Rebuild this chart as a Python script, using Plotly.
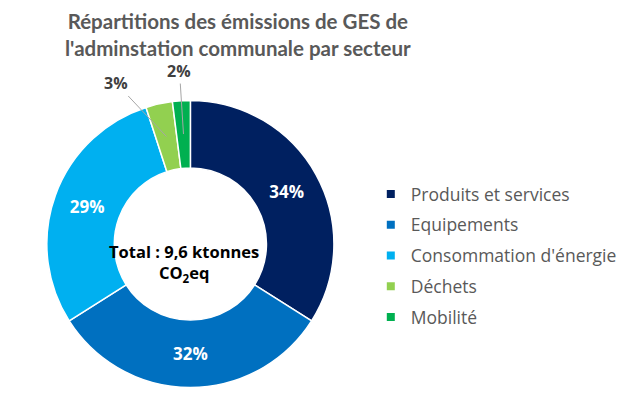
import math
import plotly.graph_objects as go

categories = ["Produits et services", "Equipements", "Consommation d'énergie", "Déchets", "Mobilité"]
values = [34, 32, 29, 3, 2]
colors = ["#002060", "#0070C0", "#00B0F0", "#92D050", "#00B050"]
inside_label = [True, True, True, False, False]
title_text = "Répartitions des émissions de GES de<br>l'adminstation communale par secteur"
center_text = "Total : 9,6 ktonnes<br>CO<sub>2</sub>eq"

W, H = 622, 407
TFONT = "Lato"
FONT = "Open Sans"

# pie placement (pixels)
CX, CY, R = 191, 244, 144
HOLE = 0.53

fig = go.Figure()
fig.add_trace(go.Pie(
    labels=categories,
    values=values,
    sort=False,
    direction="clockwise",
    rotation=0,
    hole=HOLE,
    marker=dict(colors=colors, line=dict(color="white", width=1.5)),
    texttemplate=["%{value}%" if ins else "" for ins in inside_label],
    textposition=["inside" if ins else "none" for ins in inside_label],
    insidetextorientation="horizontal",
    insidetextfont=dict(family=FONT, size=17, color="white", weight="bold"),
    showlegend=False,
    domain=dict(x=[(CX - R) / W, (CX + R) / W], y=[1 - (CY + R) / H, 1 - (CY - R) / H]),
    hoverinfo="label+value",
))

# legend entries (one per category, spaced like the reference)
for cat, col in zip(categories, colors):
    fig.add_trace(go.Scatter(
        x=[None], y=[None], mode="markers", name=cat, legendgroup=cat,
        marker=dict(symbol="square", size=8, color=col),
        hoverinfo="skip",
    ))

# outside labels for small slices, with leader lines to slice middles
label_offsets = {3: (-50, -53), 4: (-4, -63)}
annotations = []
total = sum(values)
cum = 0
for i, v in enumerate(values):
    mid = (cum + v / 2) / total * 2 * math.pi
    cum += v
    if inside_label[i]:
        continue
    rm = R * (1 + HOLE) / 2
    px = CX + rm * math.sin(mid)
    py = CY - rm * math.cos(mid)
    ax, ay = label_offsets[i]
    annotations.append(dict(
        text=f"{v}%", x=px / W, y=1 - py / H, xref="paper", yref="paper",
        showarrow=True, arrowhead=0, arrowwidth=1, arrowcolor="#A6A6A6",
        ax=ax, ay=ay, standoff=0,
        font=dict(family=FONT, size=16, color="#404040", weight="bold"),
    ))

annotations.append(dict(text=center_text, x=185 / W, y=1 - 263 / H, xref="paper", yref="paper",
                        xanchor="center", yanchor="middle", showarrow=False,
                        font=dict(family=FONT, size=16.5, color="black", weight="bold")))
annotations.append(dict(text=title_text, x=239 / W, y=1 - 7 / H, xref="paper", yref="paper",
                        xanchor="center", yanchor="top", showarrow=False,
                        font=dict(family=TFONT, size=20.5, color="#595959", weight="bold")))

fig.update_layout(
    width=W, height=H,
    margin=dict(l=0, r=0, t=0, b=0),
    paper_bgcolor="white", plot_bgcolor="white",
    xaxis=dict(visible=False), yaxis=dict(visible=False),
    legend=dict(x=372 / W, xanchor="left", y=1 - 176 / H, yanchor="top",
                font=dict(family=FONT, size=17.5, color="#595959"),
                traceorder="grouped", tracegroupgap=5, bgcolor="rgba(0,0,0,0)"),
    annotations=annotations,
)

fig.write_html("out.html", config={"displayModeBar": False},
               post_script="document.body.style.margin='0';")
